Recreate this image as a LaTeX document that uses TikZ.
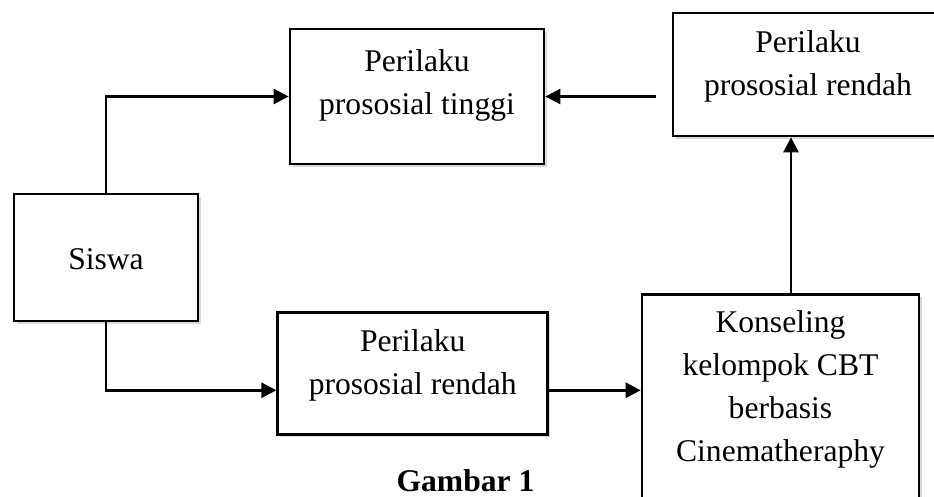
\documentclass[tikz,border=0pt]{standalone}
\usepackage{fontspec}
\setmainfont{Liberation Serif}
\usepackage{tikz}
\usetikzlibrary{positioning,arrows.meta,shadows}

\begin{document}
\begin{tikzpicture}[x=1pt,y=1pt,
	kotak/.style={draw, line width=2.7pt, fill=white, drop shadow={shadow xshift=2.5pt, shadow yshift=-3pt, opacity=0.3}},
	teks/.style={align=center, inner sep=0pt, font=\fontsize{31.6}{43}\selectfont},
	panah/.style={line width=2.6pt, -{Triangle[length=15pt,width=15pt]}}]
			\useasboundingbox (0,0) rectangle (934,496);

			\node[kotak, minimum width=184, minimum height=127] (siswa) at (106,238.5) {};
			\node[kotak, minimum width=254, minimum height=135] (tinggi) at (417,399.5) {};
			\node[kotak, minimum width=270, minimum height=123] (rendahAtas) at (808,421.5) {};
			\node[kotak, minimum width=270, minimum height=122] (rendahBawah) at (412.75,122.75) {};
			\node[kotak, minimum width=277, minimum height=210, anchor=north] (konseling) at (780.5,203) {};

			\node[teks, yshift=-2pt] (siswaTeks) at (siswa) {Siswa};
			\node[teks, below=21.5pt of tinggi.north] (tinggiTeks) {Perilaku\\prososial tinggi};
			\node[teks, below=18.5pt of rendahAtas.north] (rendahAtasTeks) {Perilaku\\prososial rendah};
			\node[teks, below=18.5pt of rendahBawah.north] (rendahBawahTeks) {Perilaku\\prososial rendah};
			\node[teks, below=17.5pt of konseling.north] (konselingTeks) {Konseling\\kelompok CBT\\berbasis\\Cinematheraphy};

			\node[teks, font=\fontsize{31.6}{43}\selectfont\bfseries, anchor=base] (gambar) at (465.5,4.5) {Gambar 1};

			\coordinate (dariAtas) at (656,399.5);

			\draw[panah] (siswa.north) |- (tinggi.west);
			\draw[panah] (dariAtas) -- (tinggi.east);
			\draw[panah] (siswa.south) |- ([yshift=-17pt]rendahBawah.west);
			\draw[panah] ([yshift=-17pt]rendahBawah.east) -- ([yshift=-17pt]rendahBawah.east -| konseling.west);
			\draw[panah] ([xshift=10.5pt]konseling.north) -- ([xshift=10.5pt]konseling.north |- rendahAtas.south);
		\end{tikzpicture}
\end{document}
